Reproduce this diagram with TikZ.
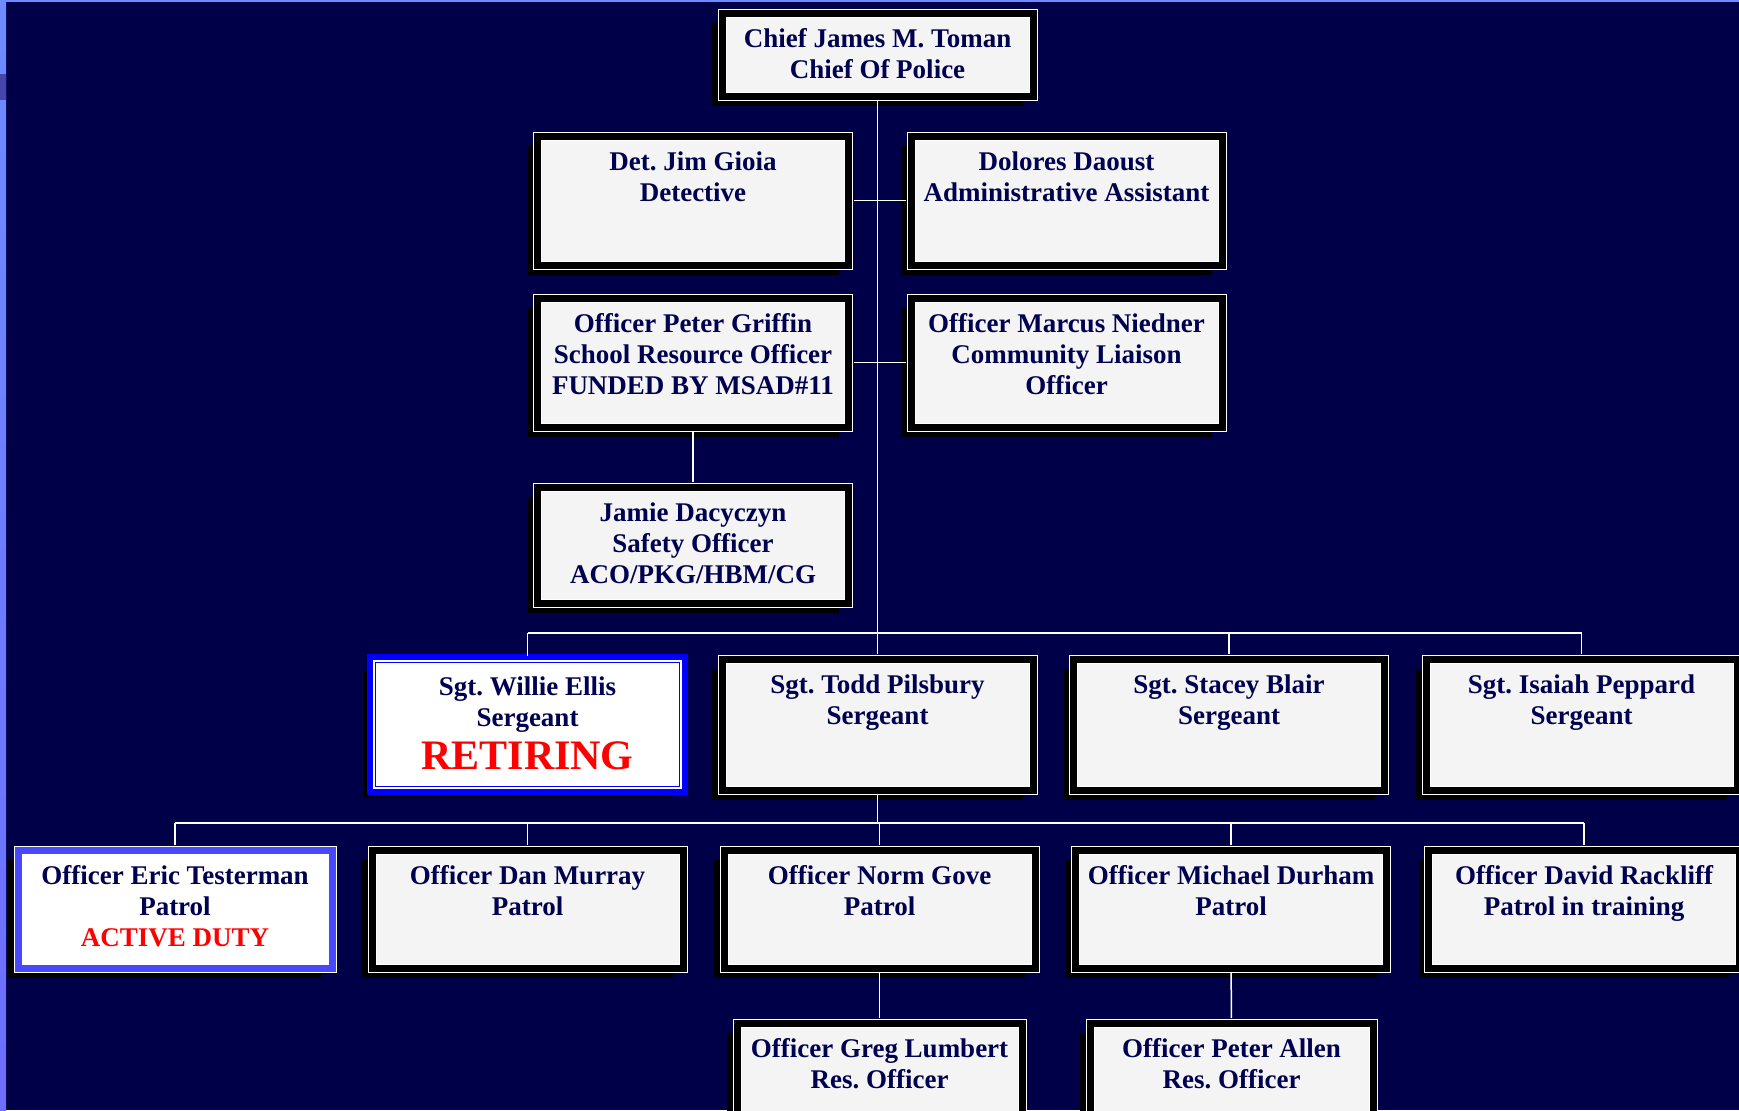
\documentclass[tikz,border=0pt]{standalone}
\usepackage{fontspec}
\setmainfont{Liberation Serif}
\usepackage{xcolor}
\usetikzlibrary{shadows, positioning, calc}
\definecolor{bg}{RGB}{0,0,72}
\definecolor{ink}{RGB}{0,0,80}
\definecolor{paper}{RGB}{244,244,244}
\definecolor{rim}{RGB}{110,140,255}
\definecolor{rimdark}{RGB}{70,70,170}
\definecolor{flagblue}{RGB}{72,72,255}

\begin{document}
\begin{tikzpicture}[x=0.5pt, y=-0.5pt,
    post/.style={draw=white, double=black, double distance=3.5pt, line width=0.5pt, fill=paper,
      minimum width=155.5pt, minimum height=#1, inner sep=0pt, outer sep=2.5pt,
      drop shadow={shadow xshift=-5pt, shadow yshift=-5pt, fill=black, opacity=1}},
    post/.default=64.5pt,
    retire/.style={post=63.5pt, draw=blue, double=white, double distance=0.6pt, line width=0.5pt,
      fill=white, minimum width=153.5pt, preaction={draw=blue, line width=7pt}},
    active/.style={post=59pt, double=flagblue, fill=white, minimum width=157pt},
    txt/.style={anchor=north, yshift=-10pt, align=center, inner sep=0pt, text=ink,
      font=\bfseries\frenchspacing\fontsize{13.5}{15.5}\selectfont},
    wire/.style={draw=white, line width=0.75pt}]
  \useasboundingbox (0,0) rectangle (1739,1110);
  \clip (0,0) rectangle (1739,1110);
  \fill[bg] (0,0) rectangle (1739,1110);
  \shade[top color=rim, bottom color=flagblue!80!white] (0,0) rectangle (6,1110);
  \fill[rimdark] (0,74) rectangle (6,100);
  \fill[rim] (0,0) rectangle (1739,2);

  \node[post=41.5pt, label={[txt]north:Chief James M. Toman\\Chief Of Police}] (chief) at (877.5,54.5) {};
  \node[post, label={[txt]north:Det. Jim Gioia\\Detective}] (det) at (693,200.5) {};
  \node[post, label={[txt]north:Dolores Daoust\\Administrative Assistant}] (admin) at (1066.5,200.5) {};
  \node[post, label={[txt]north:Officer Peter Griffin\\School Resource Officer\\FUNDED BY MSAD\#11}] (sro) at (693,362.5) {};
  \node[post, label={[txt]north:Officer Marcus Niedner\\Community Liaison\\Officer}] (liaison) at (1066.5,362.5) {};
  \node[post=58pt, label={[txt]north:Jamie Dacyczyn\\Safety Officer\\ACO/PKG/HBM/CG}] (safety) at (693,545) {};

  \node[retire, label={[txt]north:Sgt. Willie Ellis\\Sergeant\\[4pt]{\fontsize{21}{23}\selectfont\textcolor{red}{RETIRING}}}] (ellis) at (527.5,724.5) {};
  \node[post=65.5pt, label={[txt]north:Sgt. Todd Pilsbury\\Sergeant}] (pilsbury) at (877.5,724.5) {};
  \node[post=65.5pt, label={[txt]north:Sgt. Stacey Blair\\Sergeant}] (blair) at (1229,724.5) {};
  \node[post=65.5pt, label={[txt]north:Sgt. Isaiah Peppard\\Sergeant}] (peppard) at (1581.5,724.5) {};

  \node[active, label={[txt]north:Officer Eric Testerman\\Patrol\\\textcolor{red}{ACTIVE DUTY}}] (testerman) at (175,909) {};
  \node[post=59pt, label={[txt]north:Officer Dan Murray\\Patrol}] (murray) at (527.5,909) {};
  \node[post=59pt, label={[txt]north:Officer Norm Gove\\Patrol}] (gove) at (879.5,909) {};
  \node[post=59pt, label={[txt]north:Officer Michael Durham\\Patrol}] (durham) at (1231,909) {};
  \node[post=59pt, label={[txt]north:Officer David Rackliff\\Patrol in training}] (rackliff) at (1584,909) {};

  \node[post=60pt, minimum width=142.5pt, label={[txt]north:Officer Greg Lumbert\\Res. Officer}] (lumbert) at (879.5,1083) {};
  \node[post=60pt, minimum width=141.5pt, label={[txt]north:Officer Peter Allen\\Res. Officer}] (allen) at (1231.5,1083) {};

  \coordinate (sbus) at (877.5,633);
  \coordinate (obus) at (877.5,823);
  \draw[wire] (chief) -- (sbus);
  \draw[wire] (det) -- (admin);
  \draw[wire] (sro) -- (liaison);
  \draw[wire] (sro) -- (safety);
  \draw[wire] (ellis.north |- sbus) -- (peppard.north |- sbus);
  \foreach \s in {ellis, pilsbury, blair, peppard}
    \draw[wire] (\s.north |- sbus) -- (\s.north);
  \draw[wire] (pilsbury) -- (obus);
  \draw[wire] (testerman.north |- obus) -- (rackliff.north |- obus);
  \foreach \o in {testerman, murray, gove, durham, rackliff}
    \draw[wire] (\o.north |- obus) -- (\o.north);
  \draw[wire] (gove) -- (lumbert);
  \draw[wire] (durham) -- (allen);
\end{tikzpicture}
\end{document}
